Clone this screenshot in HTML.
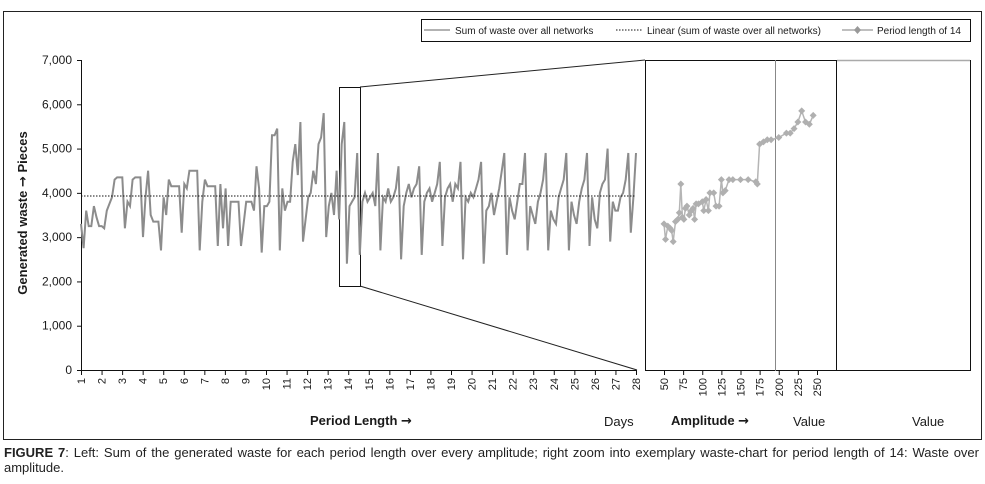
<!DOCTYPE html>
<html><head><meta charset="utf-8">
<style>
body{margin:0;background:#fff;width:985px;height:484px;overflow:hidden;font-family:"Liberation Sans",sans-serif;}
svg text{font-family:"Liberation Sans",sans-serif;fill:#1a1a1a;}
.arr{font-family:"DejaVu Sans",sans-serif;}
#cap{position:absolute;left:4px;top:445px;width:975px;font-size:13px;line-height:15px;color:#222;text-align:justify;}
</style></head><body>
<svg id="chart" width="985" height="444" style="position:absolute;left:0;top:0">
<rect x="3.5" y="11.5" width="978" height="428" fill="none" stroke="#222" stroke-width="1"/>
<g>
<rect x="421.5" y="19.5" width="549" height="22" fill="#fff" stroke="#111"/>
<line x1="424" y1="30" x2="450" y2="30" stroke="#999" stroke-width="1.5"/>
<text x="455" y="34" font-size="10">Sum of waste over all networks</text>
<line x1="616" y1="30" x2="643" y2="30" stroke="#111" stroke-dasharray="1.5,1.5"/>
<text x="647" y="34" font-size="10">Linear (sum of waste over all networks)</text>
<line x1="842" y1="30" x2="873" y2="30" stroke="#aaa" stroke-width="1.5"/>
<path d="M857.5 26 L861 30 L857.5 34 L854 30Z" fill="#999"/>
<text x="877" y="34" font-size="10">Period length of 14</text>
</g>
<g id="plot"></g>
</svg>
<div id="cap"><b>FIGURE 7</b>: Left: Sum of the generated waste for each period length over every amplitude; right zoom into exemplary waste-chart for period length of 14: Waste over amplitude.</div>
<script>
const yTicks=[0,1000,2000,3000,4000,5000,6000,7000];
const yTickLabels=["0","1,000","2,000","3,000","4,000","5,000","6,000","7,000"];
const periodTicks=[1,2,3,4,5,6,7,8,9,10,11,12,13,14,15,16,17,18,19,20,21,22,23,24,25,26,27,28];
const ampTicks=[50,75,100,125,150,175,200,225,250];
const trendValue=3930;
const wasteSum=[
3300,2750,3600,3250,3250,3700,3450,3250,
3250,3200,3600,3750,3900,4300,4350,4350,
4350,3200,3800,3700,4300,4350,4350,4350,
3000,3900,4500,3500,3350,3350,3350,2700,
3900,3500,4300,4150,4150,4150,4150,3100,
4200,4100,4500,4500,4500,4500,2700,3800,
4300,4150,4150,4150,4150,2800,4200,3200,
4100,2800,3800,3800,3800,3800,2800,3300,
3800,3800,3800,3600,4600,4100,2650,3700,
3700,3800,5300,5300,5450,2700,4100,3600,
3800,3800,4700,5100,4400,5600,2900,3400,
3900,4000,4500,4200,5100,5250,5800,3000,
3700,4000,3500,4500,3400,5100,5600,2400,
3700,3800,3900,4900,2600,3800,4000,3800,
3900,4000,3700,4900,2700,3900,3800,4100,
3800,3900,4100,4600,2500,3700,4000,4200,
3900,4100,4200,4600,2600,3800,4000,4100,
3800,4000,4200,4700,2800,3900,4100,4200,
3800,4200,4100,4700,2500,3900,3800,4000,
3900,4100,4300,4700,2400,3600,3700,4000,
3500,3800,4100,4500,4900,2600,3900,3600,
3400,3800,4200,4200,4900,2700,3700,3500,
3300,3800,4000,4300,4900,2700,3600,3400,
3300,3900,4100,4300,4900,2700,3800,3500,
3300,3800,4100,4300,4900,2800,3900,3400,
3200,4000,4200,4300,5000,2900,3800,3600,
3600,3900,4000,4300,4900,3100,3900,4900
];
const ampValues=[50,52,55,58,60,62,65,68,70,72,74,76,78,80,83,86,88,90,92,95,100,102,105,108,110,115,118,122,125,127,130,135,140,150,160,170,172,175,180,185,190,200,210,215,220,225,230,235,240,245];
const ampWaste=[3300,2950,3250,3200,3150,2900,3350,3400,3550,4200,3450,3400,3650,3700,3500,3600,3650,3400,3750,3750,3800,3600,3850,3600,4000,4000,3700,3700,4300,4000,4050,4300,4300,4300,4300,4250,4200,5100,5150,5200,5200,5250,5350,5350,5450,5600,5850,5600,5550,5750];

const NS="http://www.w3.org/2000/svg";
const g=document.getElementById('plot');
function el(t,a){const e=document.createElementNS(NS,t);for(const k in a)e.setAttribute(k,a[k]);g.appendChild(e);return e;}
const yS=v=>370-v*310/7000;
const xP=p=>81+(p-1)*(636-81)/27;
const xA=a=>664+(a-50)*(817-664)/200;

let e;
e=el('rect',{x:339.5,y:87.5,width:21,height:199,fill:'none',stroke:'#111'});


e=el('line',{x1:360,y1:87,x2:645,y2:60,stroke:'#222'});


e=el('line',{x1:360,y1:286,x2:637,y2:370,stroke:'#222'});


e=el('rect',{x:645.5,y:60.5,width:191,height:310,fill:'#fff',stroke:'#111'});


e=el('path',{d:'M837 60.5 H970.5 V370.5 H837',fill:'none',stroke:'#111'});


el('line',{x1:837,y1:60.5,x2:970,y2:60.5,stroke:'#aaa',"stroke-width":1.5});
e=el('line',{x1:775.5,y1:60,x2:775.5,y2:371,stroke:'#888'});



e=el('line',{x1:81.5,y1:60,x2:81.5,y2:370,stroke:'#111'});


e=el('line',{x1:81,y1:370.5,x2:637,y2:370.5,stroke:'#111'});


yTicks.forEach((v,i)=>{
 el('line',{x1:77,y1:yS(v)+.5,x2:81,y2:yS(v)+.5,stroke:'#111'});
 const t=el('text',{x:72,y:yS(v)+4,"font-size":12,"text-anchor":"end"});t.textContent=yTickLabels[i];
 
 
});
periodTicks.forEach(p=>{
 const x=xP(p);
 el('line',{x1:x+.5,y1:370,x2:x+.5,y2:375,stroke:'#111'});
 const t=el('text',{transform:`translate(${x+4},378) rotate(-90)`,"font-size":11,"text-anchor":"end"});t.textContent=p;
 
 
});
ampTicks.forEach(a=>{
 const x=xA(a);
 el('line',{x1:x+.5,y1:370,x2:x+.5,y2:375,stroke:'#111'});
 const t=el('text',{transform:`translate(${x+4},378) rotate(-90)`,"font-size":11,"text-anchor":"end"});t.textContent=a;
 
 
});
const n=wasteSum.length;
let d='';
wasteSum.forEach((v,i)=>{const x=xP(1+i*27/(n-1));d+=(i?'L':'M')+x.toFixed(1)+' '+yS(v).toFixed(1);});
e=el('path',{d:d,fill:'none',stroke:'#8c8c8c',"stroke-width":2});


e=el('line',{x1:81,y1:yS(trendValue),x2:636,y2:yS(trendValue),stroke:'#111',"stroke-dasharray":"1.5,1.5"});


let d2='';
ampValues.forEach((a,i)=>{d2+=(i?'L':'M')+xA(a).toFixed(1)+' '+yS(ampWaste[i]).toFixed(1);});
e=el('path',{d:d2,fill:'none',stroke:'#b5b5b5',"stroke-width":1.5});


ampValues.forEach((a,i)=>{
 const x=xA(a),y=yS(ampWaste[i]);
 const p=el('path',{d:`M${x} ${y-3.5}L${x+3.5} ${y}L${x} ${y+3.5}L${x-3.5} ${y}Z`,fill:'#b0b0b0'});
 
 
});
function txt(name,attrs,s){const t=el('text',attrs);t.innerHTML=s;return t;}
txt('y-axis-title',{transform:'translate(27,213) rotate(-90)',"font-size":13,"font-weight":"bold","text-anchor":"middle"},'Generated waste  <tspan class="arr">→</tspan>  Pieces');
txt('x-axis-title',{x:310,y:425,"font-size":13,"font-weight":"bold"},'Period Length <tspan class="arr">→</tspan>');
txt('days-label',{x:604,y:426,"font-size":13},'Days');
txt('amplitude-title',{x:671,y:425,"font-size":13,"font-weight":"bold"},'Amplitude <tspan class="arr">→</tspan>');
txt('value-label-1',{x:793,y:426,"font-size":13},'Value');
txt('value-label-2',{x:912,y:426,"font-size":13},'Value');
</script>
</body></html>
